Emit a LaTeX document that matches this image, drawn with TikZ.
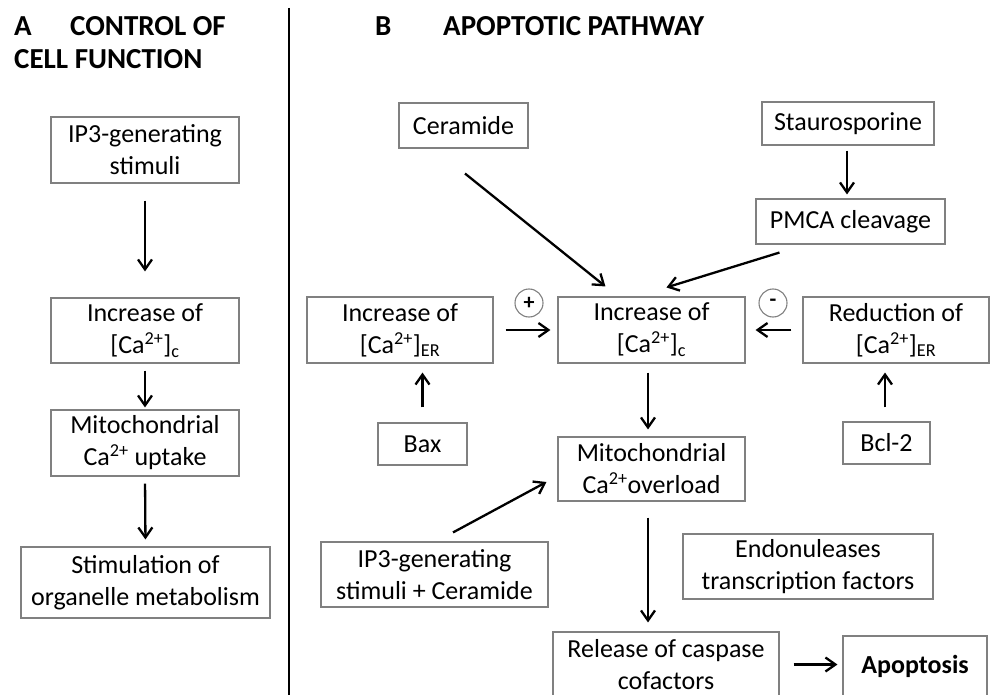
\documentclass[tikz,border=0pt]{standalone}
\usepackage{fontspec}
\setmainfont{Carlito}
\usetikzlibrary{arrows.meta}
\tikzset{
  box/.style={draw=black!50, line width=1.1pt, inner sep=0pt, align=center,
    font=\fontsize{26}{32}\selectfont},
  ttl/.style={inner sep=0pt, anchor=base west, font=\fontsize{29}{33}\selectfont\bfseries},
  arr/.style={line width=2.3pt, -{Straight Barb[length=10pt,width=14pt,line width=2.3pt]}},
  sign/.style={circle, draw=black!50, line width=1.1pt, minimum size=28pt, inner sep=0pt,
    font=\fontsize{22}{22}\selectfont\bfseries},
}
\newcommand{\cac}{[Ca\textsuperscript{2+}]\textsubscript{c}}
\newcommand{\caer}{[Ca\textsuperscript{2+}]\textsubscript{ER}}
\begin{document}
\begin{tikzpicture}[x=1pt,y=-1pt]
\useasboundingbox (0,0) rectangle (990,695);
\clip (0,0) rectangle (990,695);
% titles
\node[ttl] (tA) at (14,36) {A};
\node[ttl] (tA2) at (70,36) {CONTROL OF};
\node[ttl] (tA3) at (14,69) {CELL FUNCTION};
\node[ttl] (tB) at (375,36) {B};
\node[ttl] (tB2) at (443,36) {APOPTOTIC PATHWAY};
% divider
\draw[line width=2.8pt] (289,8) -- (289,700);
% left panel
\node[box, minimum width=188pt, minimum height=66pt] (L1) at (145,150) {IP3-generating\\stimuli};
\node[box, minimum width=188pt, minimum height=65pt] (L2) at (145,330.5) {Increase of\\\cac};
\node[box, minimum width=188pt, minimum height=66pt] (L3) at (145,443) {Mitochondrial\\Ca\textsuperscript{2+} uptake};
\node[box, minimum width=249pt, minimum height=71pt] (L4) at (145.5,582.5) {Stimulation of\\organelle metabolism};
\draw[arr, shorten <=17pt, shorten >=26pt] (L1.south) -- (L2.north);
\draw[arr, shorten <=7pt, shorten >=2pt] (L2.south) -- (L3.north);
\draw[arr, shorten <=7pt, shorten >=7pt] (L3.south) -- (L4.north);
% right panel
\node[box, minimum width=129pt, minimum height=45pt] (cer) at (463.5,125.5) {Ceramide};
\node[box, minimum width=172pt, minimum height=43pt] (stau) at (848,123.5) {Staurosporine};
\node[box, minimum width=189pt, minimum height=45pt] (pmca) at (850.5,221.5) {PMCA cleavage};
\node[box, minimum width=186pt, minimum height=66pt] (incer) at (400,330) {Increase of\\\caer};
\node[box, minimum width=187pt, minimum height=66pt] (incc) at (651.5,330) {Increase of\\\cac};
\node[box, minimum width=186pt, minimum height=66pt] (red) at (896,330) {Reduction of\\\caer};
\node[box, minimum width=89pt, minimum height=42pt] (bax) at (422.5,444) {Bax};
\node[box, minimum width=87pt, minimum height=42pt] (bcl) at (886.5,443) {Bcl-2};
\node[box, minimum width=187pt, minimum height=64pt] (mito) at (651.5,469) {Mitochondrial\\Ca\textsuperscript{2+}overload};
\node[box, minimum width=227pt, minimum height=65pt] (ip3c) at (434.5,574.5) {IP3-generating\\stimuli + Ceramide};
\node[box, minimum width=250pt, minimum height=65pt] (endo) at (808,566.5) {Endonuleases\\transcription factors};
\node[box, minimum width=226pt, minimum height=65pt] (rel) at (666,664.5) {Release of caspase\\cofactors};
\node[box, minimum width=144pt, minimum height=60pt, font=\fontsize{26}{32}\selectfont\bfseries] (apo) at (915,666) {Apoptosis};
\node[sign] (plus) at (529,303) {+};
\node[sign] (minus) at (773,303) {-};
% connectors
\draw[arr, shorten <=5pt, shorten >=4pt] ([xshift=-1pt]stau.south) -- ([xshift=-1pt]stau.south |- pmca.north);
\draw[arr] ([shift={(1.5,25)}]cer.south) -- ([shift={(48,-10)}]incc.north west);
\draw[arr] ([shift={(24,8)}]pmca.south west) -- ([shift={(109,-9)}]incc.north west);
\draw[arr, shorten <=12pt, shorten >=7pt] (incer.east) -- (incc.west);
\draw[arr, shorten <=11pt, shorten >=10pt] (red.west) -- (incc.east);
\draw[arr, shorten <=15pt, shorten >=9pt] (bax.north) -- (bax.north |- incer.south);
\draw[arr, shorten <=14pt, shorten >=9pt] ([xshift=-1.5pt]bcl.north) -- ([xshift=-1.5pt]bcl.north |- red.south);
\draw[arr, shorten <=9pt, shorten >=7pt] ([xshift=-3.5pt]incc.south) -- ([xshift=-3.5pt]mito.north);
\draw[arr] ([shift={(18.5,-9)}]ip3c.north) -- ([shift={(-11,13)}]mito.west);
\draw[arr, shorten <=16pt, shorten >=9pt] ([xshift=-3.5pt]mito.south) -- ([xshift=-3.5pt]mito.south |- rel.north);
\draw[arr, shorten <=14pt, shorten >=5pt] (rel.east) -- (rel.east -| apo.west);
\end{tikzpicture}
\end{document}
